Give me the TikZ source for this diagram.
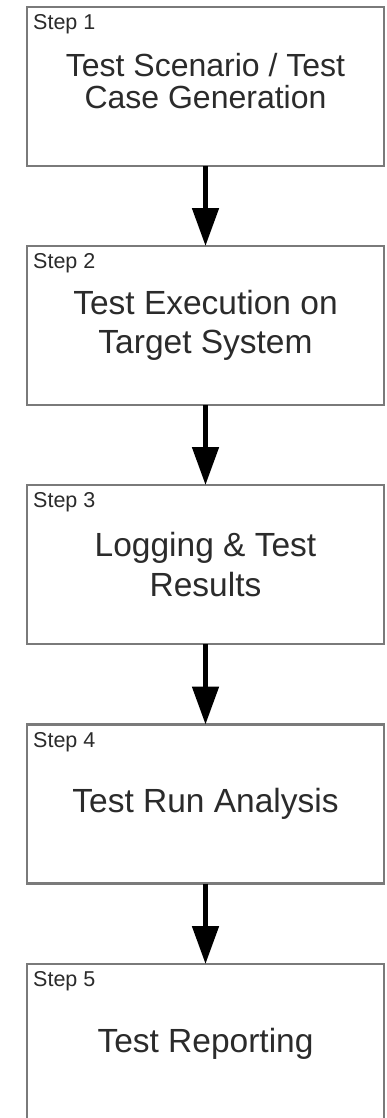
\documentclass[tikz,border=0pt]{standalone}
\usepackage{fontspec}
\setmainfont{Liberation Sans}
\usetikzlibrary{arrows.meta,positioning}
\definecolor{frame}{HTML}{7A7A7A}
\definecolor{ink}{HTML}{2B2B2B}

\begin{document}
\begin{tikzpicture}[x=1pt,y=1pt,>={Triangle[width=26pt,length=38pt]},
  stepbox/.style={draw=frame,line width=2.2pt,fill=white,minimum width=357pt,minimum height=159pt,outer sep=0pt,align=center,text=ink,font=\fontsize{33.5}{39.5}\selectfont},
  steplabel/.style={anchor=base west,inner sep=0pt,text=ink,font=\fontsize{21.5}{24}\selectfont},
  flow/.style={->,line width=5pt,black}]
\useasboundingbox (0,0) rectangle (387,-1118);
\node[stepbox,font=\fontsize{32}{32}\selectfont,text depth=11pt] (box1) at (205.5,-86.5) {Test Scenario / Test\\Case Generation};
\node[stepbox,below=80pt of box1] (box2) {Test Execution on\\Target System};
\node[stepbox,below=80pt of box2] (box3) {Logging \& Test\\Results};
\node[stepbox,below=80.5pt of box3] (box4) {Test Run Analysis};
\node[stepbox,below=80.5pt of box4] (box5) {Test Reporting};
\node[steplabel] (lab1) at ([xshift=6pt,yshift=-22.5pt]box1.north west) {Step 1};
\node[steplabel] (lab2) at ([xshift=6pt,yshift=-22.5pt]box2.north west) {Step 2};
\node[steplabel] (lab3) at ([xshift=6pt,yshift=-22.5pt]box3.north west) {Step 3};
\node[steplabel] (lab4) at ([xshift=6pt,yshift=-22.5pt]box4.north west) {Step 4};
\node[steplabel] (lab5) at ([xshift=6pt,yshift=-22.5pt]box5.north west) {Step 5};
\draw[flow] (box1)--(box2); \draw[flow] (box2)--(box3);
\draw[flow] (box3)--(box4); \draw[flow] (box4)--(box5);
\end{tikzpicture}
\end{document}
